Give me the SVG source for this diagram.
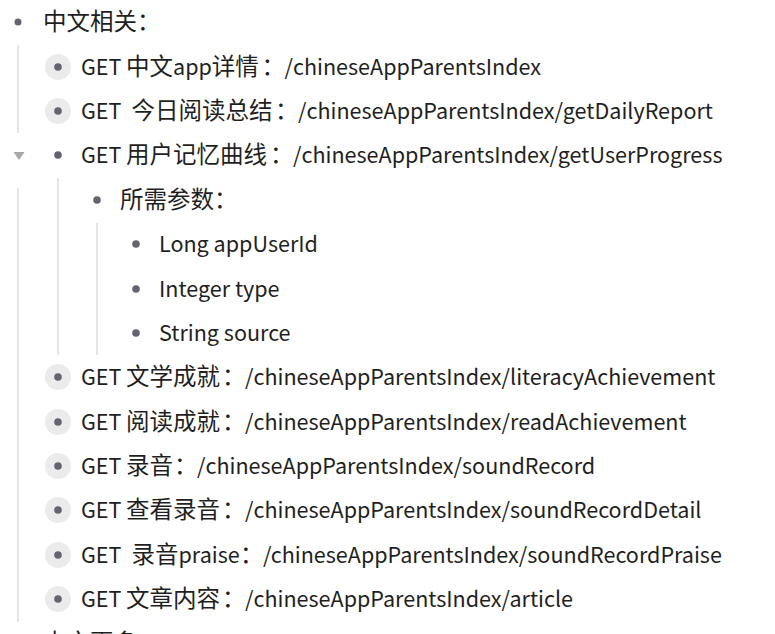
<svg xmlns="http://www.w3.org/2000/svg" width="775" height="634" viewBox="0 0 775 634">
<style>
text{font-family:"Noto Sans CJK SC","Noto Sans",sans-serif;font-size:21.55px;fill:#1f1f1f;white-space:pre}
.z{font-size:23.5px}
.dot{fill:#646470}
.halo{fill:#ebebeb}
.guide{stroke:#dcdcdc;stroke-width:1.5;fill:none}
</style>
<rect width="775" height="634" fill="#ffffff"/>
<g id="guides">
<line class="guide" x1="18" y1="45" x2="18" y2="133"/>
<line class="guide" x1="18" y1="188" x2="18" y2="622"/>
<line class="guide" x1="58" y1="178" x2="58" y2="355"/>
<line class="guide" x1="97" y1="223" x2="97" y2="355"/>
</g>
<g id="n1"><circle class="dot" cx="18" cy="22" r="3.5"/><text x="43" y="30"><tspan class="z">中文相关：</tspan></text></g>
<g id="n2"><circle class="halo" cx="58" cy="67" r="13"/><circle class="dot" cx="58" cy="67" r="3.8"/><text x="81" y="74.5">GET <tspan class="z" x="126">中文</tspan>app<tspan class="z">详情</tspan><tspan class="z" x="261.5">：</tspan><tspan x="284.5">/chineseAppParentsIndex</tspan></text></g>
<g id="n3"><circle class="halo" cx="58" cy="111" r="13"/><circle class="dot" cx="58" cy="111" r="3.8"/><text x="81" y="118.5">GET  <tspan class="z" x="131.5">今日阅读总结</tspan><tspan class="z" x="275">：</tspan><tspan x="298">/chineseAppParentsIndex/getDailyReport</tspan></text></g>
<g id="n4"><polygon points="13.5,152 24.5,152 19,160" fill="#a8a8a8"/><circle class="dot" cx="58" cy="155" r="3.8"/><text x="81" y="162.5">GET <tspan class="z" x="126">用户记忆曲线</tspan><tspan class="z" x="270">：</tspan><tspan x="293">/chineseAppParentsIndex/getUserProgress</tspan></text></g>
<g id="n5"><circle class="dot" cx="97" cy="200" r="3.8"/><text x="120" y="208"><tspan class="z">所需参数：</tspan></text></g>
<g id="n6"><circle class="dot" cx="136" cy="244" r="3.8"/><text x="159" y="251.5">Long appUserId</text></g>
<g id="n7"><circle class="dot" cx="136" cy="289" r="3.8"/><text x="159" y="296.5">Integer type</text></g>
<g id="n8"><circle class="dot" cx="136" cy="333" r="3.8"/><text x="159" y="340.5">String source</text></g>
<g id="n9"><circle class="halo" cx="58" cy="377" r="13"/><circle class="dot" cx="58" cy="377" r="3.8"/><text x="81" y="384.5">GET <tspan class="z" x="126">文学成就</tspan><tspan class="z" x="222">：</tspan><tspan x="245">/chineseAppParentsIndex/literacyAchievement</tspan></text></g>
<g id="n10"><circle class="halo" cx="58" cy="422" r="13"/><circle class="dot" cx="58" cy="422" r="3.8"/><text x="81" y="429.5">GET <tspan class="z" x="126">阅读成就</tspan><tspan class="z" x="222">：</tspan><tspan x="245">/chineseAppParentsIndex/readAchievement</tspan></text></g>
<g id="n11"><circle class="halo" cx="58" cy="466" r="13"/><circle class="dot" cx="58" cy="466" r="3.8"/><text x="81" y="473.5">GET <tspan class="z" x="126">录音</tspan><tspan class="z" x="174">：</tspan><tspan x="197">/chineseAppParentsIndex/soundRecord</tspan></text></g>
<g id="n12"><circle class="halo" cx="58" cy="510" r="13"/><circle class="dot" cx="58" cy="510" r="3.8"/><text x="81" y="517.5">GET <tspan class="z" x="126">查看录音</tspan><tspan class="z" x="222">：</tspan><tspan x="245">/chineseAppParentsIndex/soundRecordDetail</tspan></text></g>
<g id="n13"><circle class="halo" cx="58" cy="555" r="13"/><circle class="dot" cx="58" cy="555" r="3.8"/><text x="81" y="562.5">GET  <tspan class="z" x="131.5">录音</tspan>praise<tspan class="z" x="240">：</tspan><tspan x="263">/chineseAppParentsIndex/soundRecordPraise</tspan></text></g>
<g id="n14"><circle class="halo" cx="58" cy="599" r="13"/><circle class="dot" cx="58" cy="599" r="3.8"/><text x="81" y="606.5">GET <tspan class="z" x="126">文章内容</tspan><tspan class="z" x="222">：</tspan><tspan x="245">/chineseAppParentsIndex/article</tspan></text></g>
<g id="n15"><text x="43" y="651"><tspan class="z">中文更多：</tspan></text></g>
</svg>
